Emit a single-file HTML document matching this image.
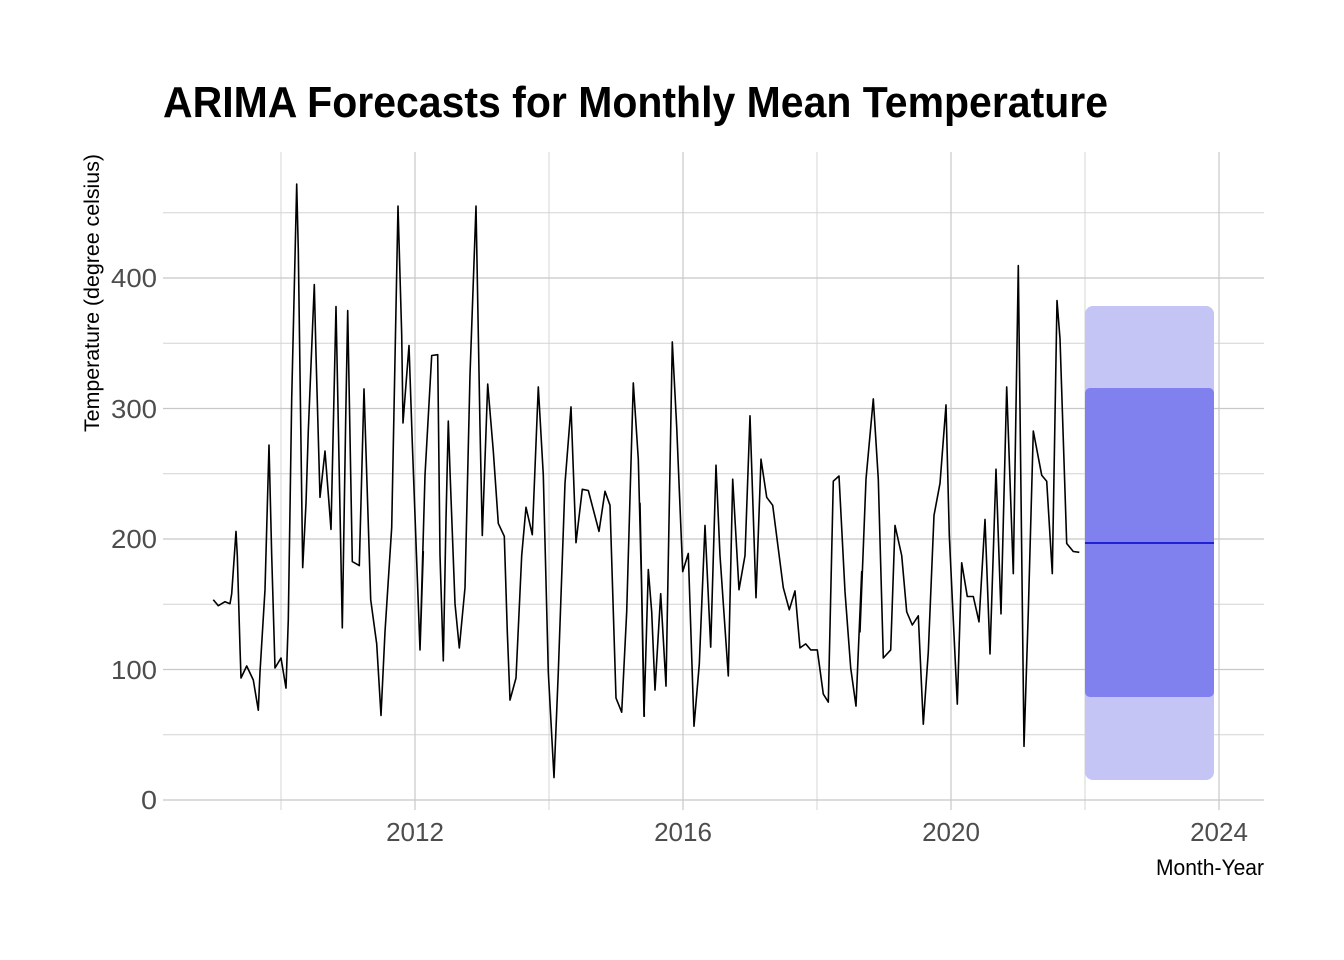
<!DOCTYPE html>
<html><head><meta charset="utf-8"><style>
html,body{margin:0;padding:0;background:#fff;}
svg{display:block;}
text{font-family:"Liberation Sans",sans-serif;}
</style></head><body>
<svg id="s" width="1344" height="960" xmlns="http://www.w3.org/2000/svg">
<rect width="1344" height="960" fill="#fff"/>
<g stroke="#d4d4d4" stroke-width="1">
<line x1="163" x2="1264" y1="212.75" y2="212.75"/>
<line x1="163" x2="1264" y1="343.25" y2="343.25"/>
<line x1="163" x2="1264" y1="473.75" y2="473.75"/>
<line x1="163" x2="1264" y1="604.25" y2="604.25"/>
<line x1="163" x2="1264" y1="734.75" y2="734.75"/>
<line x1="281" x2="281" y1="152" y2="810"/>
<line x1="549" x2="549" y1="152" y2="810"/>
<line x1="817" x2="817" y1="152" y2="810"/>
<line x1="1085" x2="1085" y1="152" y2="810"/>
</g>
<g stroke="#c8c8c8" stroke-width="1.2">
<line x1="163" x2="1264" y1="800" y2="800"/>
<line x1="163" x2="1264" y1="669.5" y2="669.5"/>
<line x1="163" x2="1264" y1="539" y2="539"/>
<line x1="163" x2="1264" y1="408.5" y2="408.5"/>
<line x1="163" x2="1264" y1="278" y2="278"/>
<line x1="415" x2="415" y1="152" y2="810"/>
<line x1="683" x2="683" y1="152" y2="810"/>
<line x1="951" x2="951" y1="152" y2="810"/>
<line x1="1219" x2="1219" y1="152" y2="810"/>
</g>
<rect x="1085" y="306" width="129" height="474" rx="8" fill="#c4c4f5"/>
<rect x="1085" y="388" width="129" height="309" rx="5" fill="#8080ee"/>
<line x1="1085" x2="1214" y1="543" y2="543" stroke="#0000cc" stroke-width="1.5"/>
<polyline id="ln" fill="none" stroke="#000" stroke-width="1.6" stroke-linejoin="round"/>
<text x="163" y="117" font-size="44" font-weight="bold" fill="#000" textLength="945" lengthAdjust="spacingAndGlyphs">ARIMA Forecasts for Monthly Mean Temperature</text>
<g font-size="26" fill="#4d4d4d" text-anchor="end">
<text x="157" y="809" textLength="16" lengthAdjust="spacingAndGlyphs">0</text>
<text x="157" y="679" textLength="46" lengthAdjust="spacingAndGlyphs">100</text>
<text x="157" y="548" textLength="46" lengthAdjust="spacingAndGlyphs">200</text>
<text x="157" y="418" textLength="46" lengthAdjust="spacingAndGlyphs">300</text>
<text x="157" y="287" textLength="46" lengthAdjust="spacingAndGlyphs">400</text>
</g>
<g font-size="26" fill="#4d4d4d" text-anchor="middle">
<text x="415" y="841">2012</text>
<text x="683" y="841">2016</text>
<text x="951" y="841">2020</text>
<text x="1219" y="841">2024</text>
</g>
<text x="1264" y="875" font-size="22" fill="#000" text-anchor="end" textLength="108" lengthAdjust="spacingAndGlyphs">Month-Year</text>
<text transform="translate(99,293) rotate(-90)" font-size="21" fill="#000" text-anchor="middle" textLength="278" lengthAdjust="spacingAndGlyphs">Temperature (degree celsius)</text>
</svg>
<script>
var z=[
[200,[[40,1070],[55,1085],[75,1075],[90,1080],[95,1055],[108,900],[112,960],[120,1190],[123,1265],[140,1235],[160,1270],[175,1345],[180,1250],[195,1045],[207,685],[215,960],[225,1240],[243,1215],[258,1290],[265,1120],[275,570],[290,35],[295,200],[308,990],[318,830],[325,650],[343,285],[348,460],[360,815],[375,700],[393,895],[408,340],[427,1140],[437,620],[443,350],[457,975],[478,985],[492,545],[512,1070],[530,1180],[543,1358],[555,1150],[575,890],[594,90],[605,410],[609,630],[627,437],[637,680],[660,1195],[670,950]]],
[420,[[0,1195],[15,760],[35,462],[53,460],[60,960],[70,1222],[78,870],[85,625],[90,750],[105,1080],[118,1190],[135,1040],[150,510],[168,90],[180,640],[187,910],[203,533],[220,700],[235,880],[253,912],[262,1150],[270,1320],[288,1265],[305,960],[318,840],[337,908],[355,540],[370,760],[385,1250],[402,1513],[415,1250],[435,780],[453,590],[468,928],[487,795],[505,798],[537,900],[555,800],[570,835],[588,1315],[605,1350],[620,1100],[640,530],[655,720],[665,1050],[673,1360]]],
[640,[[0,830],[12,1360],[25,995],[35,1100],[45,1295],[62,1055],[78,1285],[97,428],[110,640],[128,1000],[145,955],[162,1385],[178,1230],[195,885],[212,1188],[228,735],[240,960],[265,1260],[278,770],[297,1045],[315,960],[330,612],[348,1065],[363,720],[380,815],[398,835],[430,1040],[448,1095],[465,1048],[480,1190],[497,1180],[512,1195],[532,1195],[550,1305],[565,1325],[580,775],[597,762],[615,1050],[632,1240],[648,1335],[665,1000]]],
[860,[[0,1150],[18,770],[40,570],[55,770],[70,1215],[92,1195],[105,885],[125,960],[140,1100],[157,1133],[175,1110],[190,1380],[205,1200],[222,860],[240,780],[258,585],[268,910],[292,1330],[305,978],[322,1062],[340,1062],[357,1125],[375,870],[390,1205],[408,745],[423,1105],[440,540],[460,1005],[475,238],[492,1435],[505,1100],[520,650],[545,760],[560,775],[577,1005],[591,325],[600,420],[620,930],[640,950],[658,952]]]];
var p=[];z.forEach(function(s){s[1].forEach(function(q){p.push((s[0]+q[0]/3).toFixed(1)+","+(170+q[1]/2.49).toFixed(1));});});
document.getElementById("ln").setAttribute("points",p.join(" "));
</script>
</body></html>
